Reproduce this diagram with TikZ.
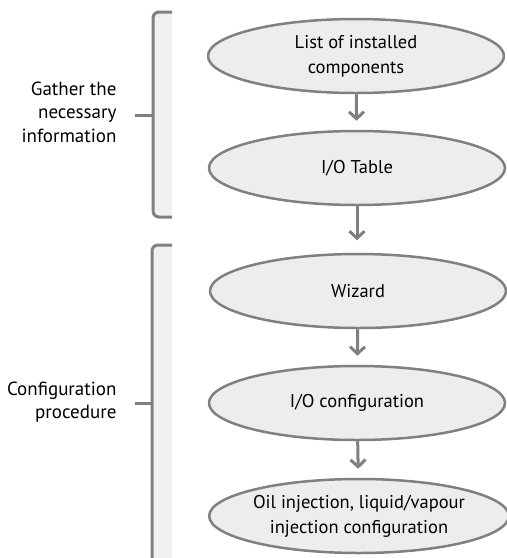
\documentclass[tikz,border=0pt]{standalone}
\usepackage{fontspec}
\setmainfont{PT Sans}
\usetikzlibrary{shapes.geometric,arrows.meta}
\definecolor{flowgray}{HTML}{808080}
\definecolor{flowfill}{HTML}{EDEDED}
\definecolor{stripfill}{HTML}{F0F0F0}

\tikzset{
  stepnode/.style={ellipse, draw=flowgray, line width=2.5pt, fill=flowfill,
    minimum width=296pt, minimum height=74pt, inner sep=0pt, align=center,
    font=\fontsize{18.5}{25}\selectfont},
  flowarrow/.style={draw=flowgray, line width=3pt, shorten >=9pt,
    -{Straight Barb[length=7pt,width=15pt]}},
  bracketline/.style={draw=flowgray, line width=3pt, rounded corners=6pt},
  sidelabel/.style={align=right, anchor=east, font=\fontsize{19}{23.5}\selectfont}
}

\begin{document}
\begin{tikzpicture}[x=1pt, y=-1pt]
  \useasboundingbox (0,0) rectangle (507,558);

  % light strips beside the brackets
  \fill[stripfill] (154,12) rectangle (172,217);
  \fill[stripfill] (153,245) rectangle (172,558);

  % brackets
  \draw[bracketline] (172,12) -- (153,12) -- (153,217) -- (172,217);
  \draw[bracketline] (135,115) -- (153,115);
  \draw[bracketline] (172,245) -- (152,245) -- (152,562);
  \draw[bracketline] (135,403) -- (152,403);

  % side labels
  \node[sidelabel] (gather) at (120,112) {Gather the\\necessary\\information};
  \node[sidelabel] (config) at (120,402) {Configuration\\procedure};

  % flow
  \node[stepnode] (list) at (356,56) {List of installed\\components};
  \node[stepnode] (iotable) at (357,168) {I/O Table};
  \node[stepnode] (wizard) at (358,291) {Wizard};
  \node[stepnode] (ioconf) at (357,403) {I/O configuration};
  \node[stepnode] (oil) at (359,516) {Oil injection, liquid/vapour\\injection configuration};

  \draw[flowarrow] (list) -- (iotable);
  \draw[flowarrow] (iotable.south) -- ++(0,43);
  \draw[flowarrow] (wizard) -- (ioconf);
  \draw[flowarrow] (ioconf) -- (oil);
\end{tikzpicture}
\end{document}
